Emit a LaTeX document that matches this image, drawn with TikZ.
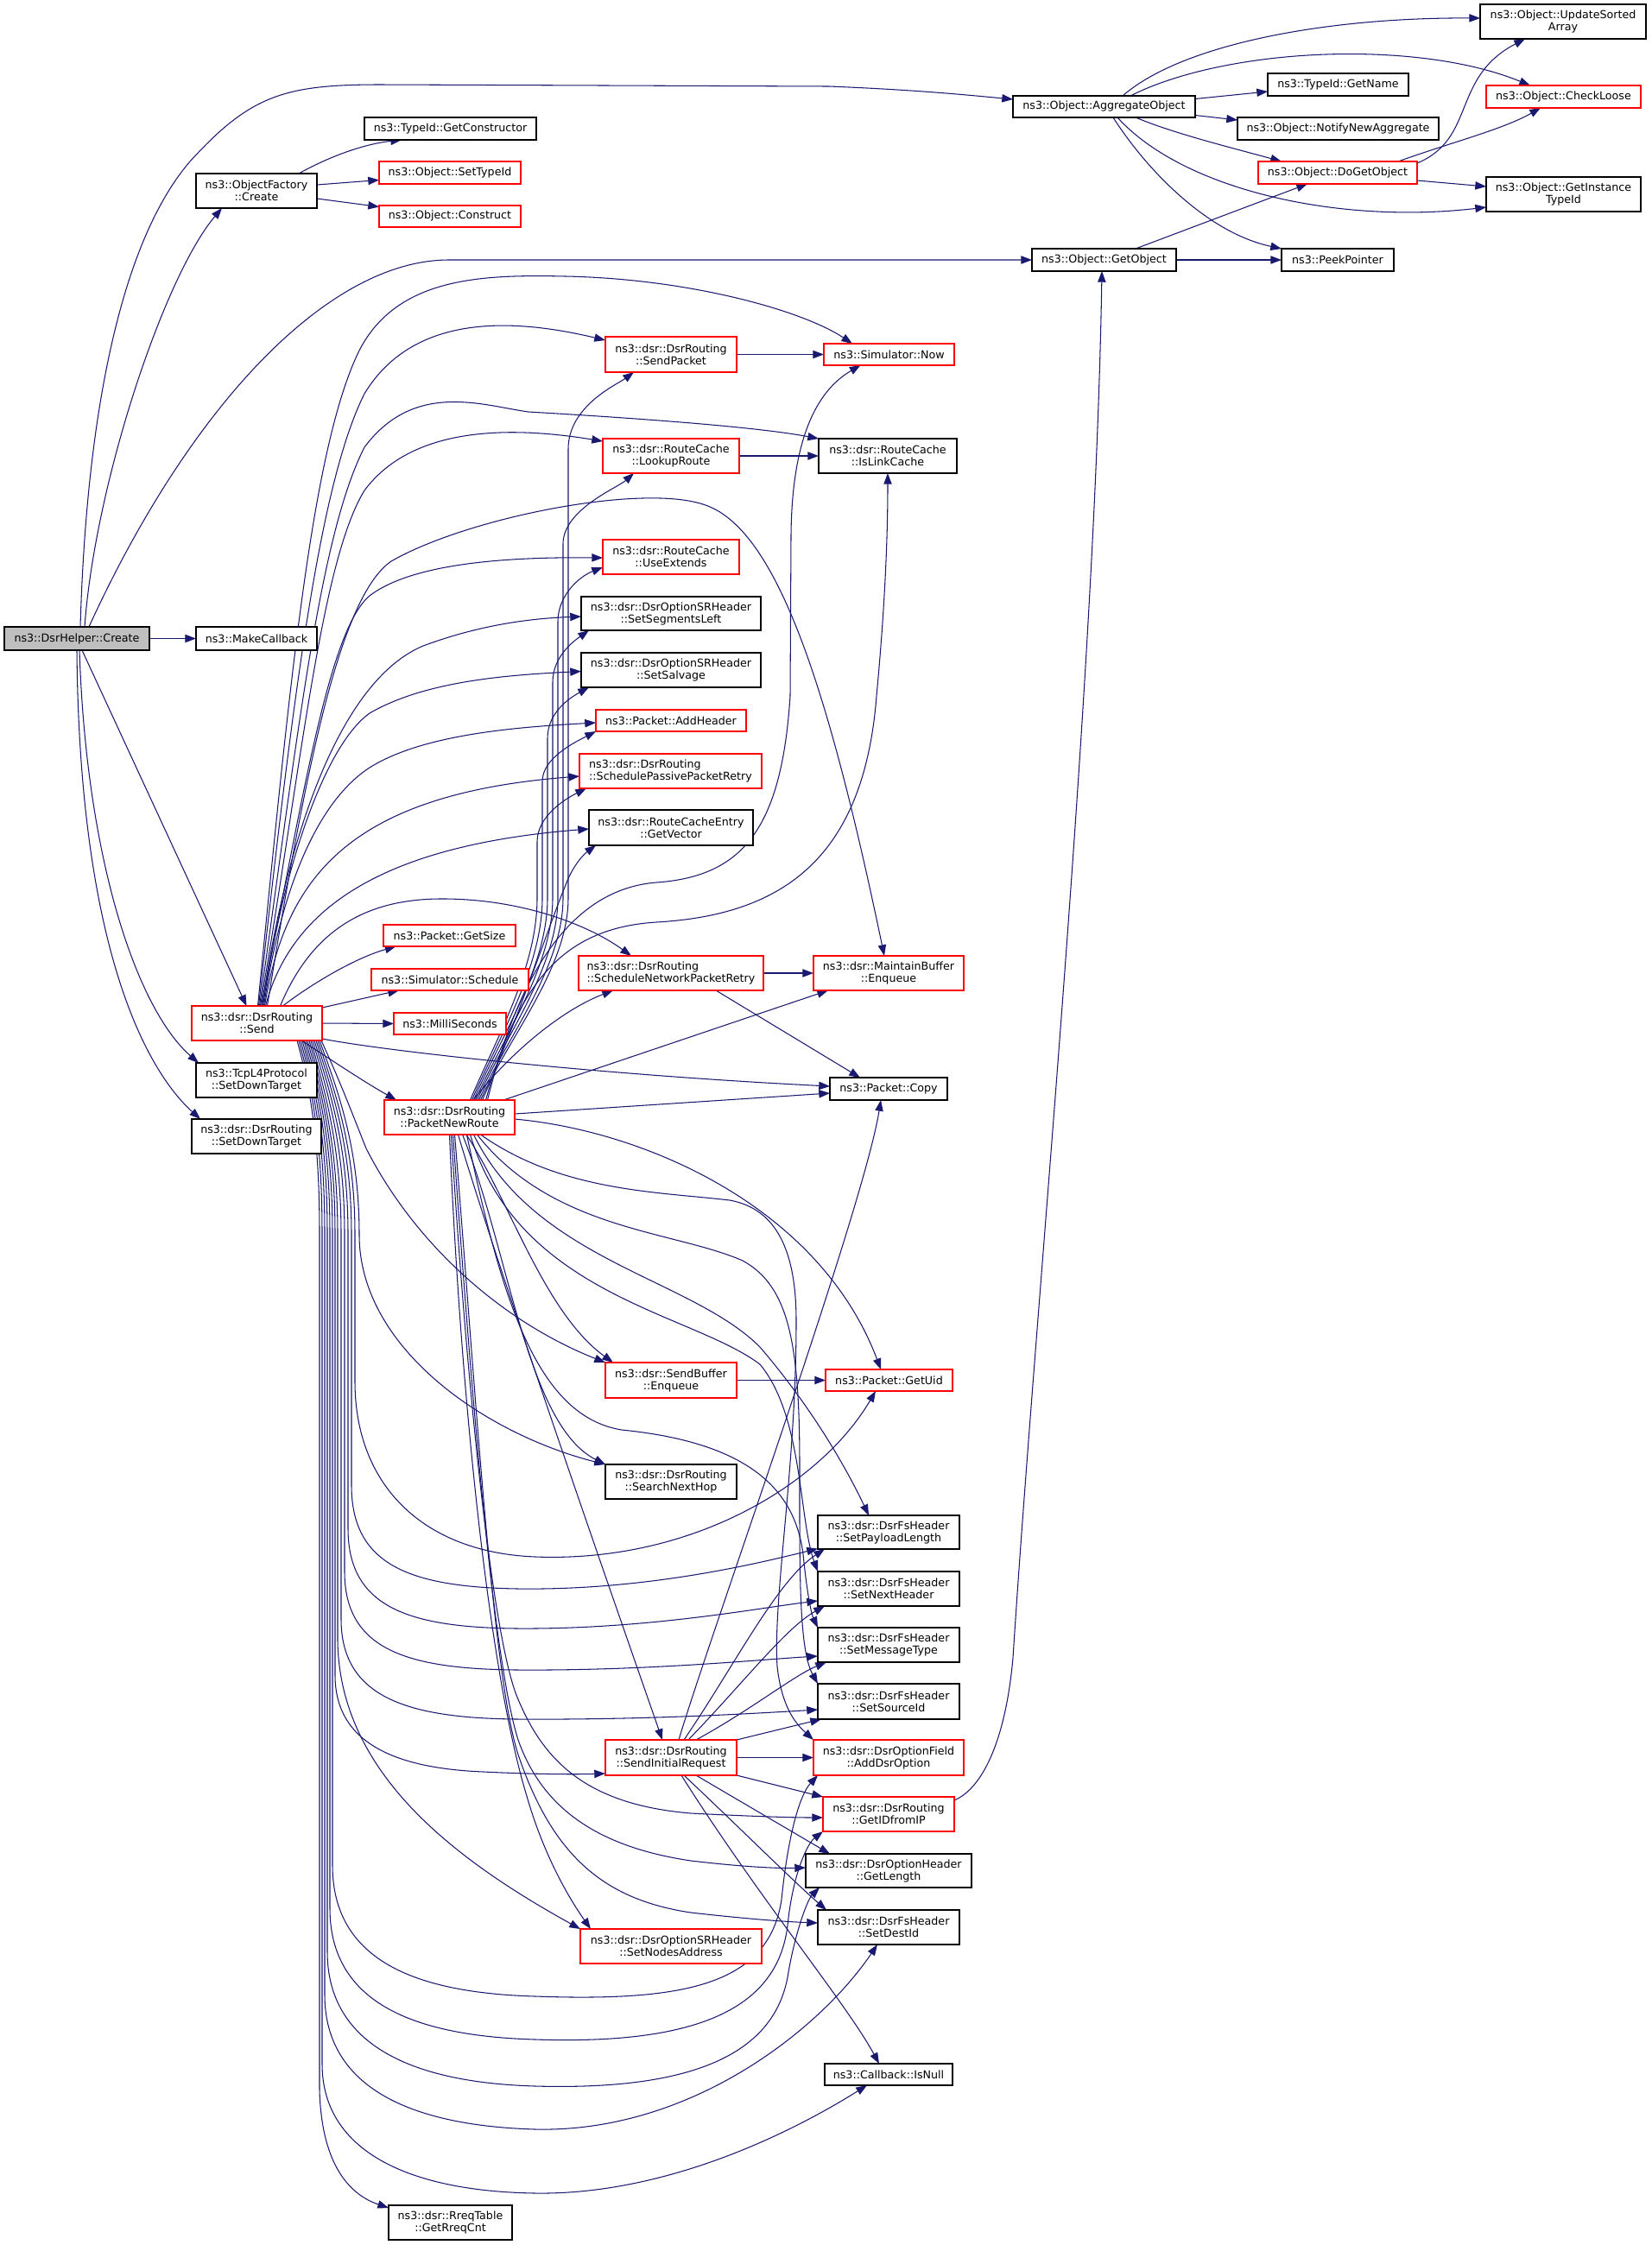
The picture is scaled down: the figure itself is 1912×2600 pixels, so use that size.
\documentclass[tikz,border=0pt]{standalone}
\usepackage{fontspec}
\setmainfont{DejaVu Sans}
\usetikzlibrary{arrows.meta}
\pgfdeclarelayer{paper}
\pgfdeclarelayer{edges}
\pgfsetlayers{paper,edges,main}
\definecolor{mblue}{HTML}{191970}
\definecolor{rootgray}{HTML}{BFBFBF}
\newcommand\fnt{\fontsize{12.66}{14}\selectfont}
\begin{document}
\begin{tikzpicture}[x=1pt,y=-1pt,
  nb/.style={draw=black, line width=1.1pt, fill=white, inner sep=0pt, outer sep=0pt, font=\fnt, align=center},
  nr/.style={nb, draw=red},
  nroot/.style={nb, fill=rootgray},
  cg/.style={draw=mblue, line width=1.05pt, -{Triangle[length=12.7pt,width=9.3pt]}}]
\begin{pgfonlayer}{paper}
\fill[white] (0,0) rectangle (1912,2600);
\end{pgfonlayer}
\useasboundingbox (0,0) rectangle (1912,2600);

% column 1-2
\node[nroot,minimum width=168pt,minimum height=27pt] (create) at (89,739.5) {ns3::DsrHelper::Create};
\node[nb,minimum width=140pt,minimum height=27pt] (makecb) at (297,739.5) {ns3::MakeCallback};
\node[nb,minimum width=140pt,minimum height=40pt] (ofcreate) at (297,221) {ns3::ObjectFactory\\::Create};
\node[nr,minimum width=151pt,minimum height=40pt] (send) at (297.5,1185) {ns3::dsr::DsrRouting\\::Send};
\node[nb,minimum width=140pt,minimum height=40pt] (tcp) at (297,1251) {ns3::TcpL4Protocol\\::SetDownTarget};
\node[nb,minimum width=150pt,minimum height=40pt] (setdown) at (297,1316) {ns3::dsr::DsrRouting\\::SetDownTarget};
% column 3
\node[nb,minimum width=199pt,minimum height=26pt] (getctor) at (521.5,149) {ns3::TypeId::GetConstructor};
\node[nr,minimum width=164pt,minimum height=26pt] (settypeid) at (521,200) {ns3::Object::SetTypeId};
\node[nr,minimum width=164pt,minimum height=25pt] (construct) at (521,250.5) {ns3::Object::Construct};
\node[nr,minimum width=153pt,minimum height=25pt] (getsize) at (520.5,1083.5) {ns3::Packet::GetSize};
\node[nr,minimum width=182pt,minimum height=25pt] (schedule) at (521,1134.5) {ns3::Simulator::Schedule};
\node[nr,minimum width=130pt,minimum height=25pt] (milli) at (521,1185.5) {ns3::MilliSeconds};
\node[nr,minimum width=151pt,minimum height=40pt] (pnr) at (520.5,1294) {ns3::dsr::DsrRouting\\::PacketNewRoute};
\node[nb,minimum width=143pt,minimum height=40pt] (rreq) at (521.5,2574) {ns3::dsr::RreqTable\\::GetRreqCnt};
% column 4
\node[nr,minimum width=152pt,minimum height=41pt] (sendpkt) at (777,410.5) {ns3::dsr::DsrRouting\\::SendPacket};
\node[nr,minimum width=158pt,minimum height=40pt] (lookup) at (777,528) {ns3::dsr::RouteCache\\::LookupRoute};
\node[nr,minimum width=158pt,minimum height=40pt] (useext) at (777,645) {ns3::dsr::RouteCache\\::UseExtends};
\node[nb,minimum width=208pt,minimum height=39pt] (segleft) at (777,710.5) {ns3::dsr::DsrOptionSRHeader\\::SetSegmentsLeft};
\node[nb,minimum width=208pt,minimum height=40pt] (salvage) at (777,776) {ns3::dsr::DsrOptionSRHeader\\::SetSalvage};
\node[nr,minimum width=174pt,minimum height=25pt] (addhdr) at (777,834.5) {ns3::Packet::AddHeader};
\node[nr,minimum width=211pt,minimum height=40pt,align=left] (passive) at (776.5,893) {ns3::dsr::DsrRouting\\::SchedulePassivePacketRetry};
\node[nb,minimum width=190pt,minimum height=41pt] (getvec) at (777,958.5) {ns3::dsr::RouteCacheEntry\\::GetVector};
\node[nr,minimum width=214pt,minimum height=40pt,align=left] (network) at (777,1127) {ns3::dsr::DsrRouting\\::ScheduleNetworkPacketRetry};
\node[nr,minimum width=152pt,minimum height=41pt] (sbenq) at (777,1598.5) {ns3::dsr::SendBuffer\\::Enqueue};
\node[nb,minimum width=152pt,minimum height=40pt] (nexthop) at (777,1716) {ns3::dsr::DsrRouting\\::SearchNextHop};
\node[nr,minimum width=152pt,minimum height=41pt] (sir) at (777,2035.5) {ns3::dsr::DsrRouting\\::SendInitialRequest};
\node[nr,minimum width=210pt,minimum height=40pt] (nodesaddr) at (777,2254) {ns3::dsr::DsrOptionSRHeader\\::SetNodesAddress};
% column 5
\node[nr,minimum width=151pt,minimum height=25pt] (now) at (1029.5,410.5) {ns3::Simulator::Now};
\node[nb,minimum width=160pt,minimum height=40pt] (linkcache) at (1028,528) {ns3::dsr::RouteCache\\::IsLinkCache};
\node[nr,minimum width=174pt,minimum height=40pt] (mbenq) at (1029,1127) {ns3::dsr::MaintainBuffer\\::Enqueue};
\node[nb,minimum width=136pt,minimum height=26pt] (copy) at (1029,1261) {ns3::Packet::Copy};
\node[nr,minimum width=147pt,minimum height=25pt] (getuid) at (1029.5,1598.5) {ns3::Packet::GetUid};
\node[nb,minimum width=164pt,minimum height=39pt] (payload) at (1029,1774.5) {ns3::dsr::DsrFsHeader\\::SetPayloadLength};
\node[nb,minimum width=164pt,minimum height=40pt] (nexthdr) at (1029,1840) {ns3::dsr::DsrFsHeader\\::SetNextHeader};
\node[nb,minimum width=164pt,minimum height=40pt] (msgtype) at (1029,1905) {ns3::dsr::DsrFsHeader\\::SetMessageType};
\node[nb,minimum width=164pt,minimum height=41pt] (srcid) at (1029,1970.5) {ns3::dsr::DsrFsHeader\\::SetSourceId};
\node[nr,minimum width=174pt,minimum height=41pt] (adddsr) at (1029,2035.5) {ns3::dsr::DsrOptionField\\::AddDsrOption};
\node[nr,minimum width=152pt,minimum height=40pt] (getid) at (1029,2101) {ns3::dsr::DsrRouting\\::GetIDfromIP};
\node[nb,minimum width=192pt,minimum height=39pt] (getlen) at (1029,2166.5) {ns3::dsr::DsrOptionHeader\\::GetLength};
\node[nb,minimum width=164pt,minimum height=40pt] (destid) at (1029,2232) {ns3::dsr::DsrFsHeader\\::SetDestId};
\node[nb,minimum width=148pt,minimum height=25pt] (isnull) at (1029,2402.5) {ns3::Callback::IsNull};
% columns 6-8
\node[nb,minimum width=211pt,minimum height=25pt] (agg) at (1278.5,123.5) {ns3::Object::AggregateObject};
\node[nb,minimum width=167pt,minimum height=26pt] (getobj) at (1278.5,301) {ns3::Object::GetObject};
\node[nb,minimum width=163pt,minimum height=26pt] (getname) at (1549.5,98) {ns3::TypeId::GetName};
\node[nb,minimum width=233pt,minimum height=26pt] (notify) at (1549.5,149) {ns3::Object::NotifyNewAggregate};
\node[nr,minimum width=184pt,minimum height=26pt] (dogetobj) at (1549,200) {ns3::Object::DoGetObject};
\node[nb,minimum width=130pt,minimum height=26pt] (peek) at (1549,301) {ns3::PeekPointer};
\node[nb,minimum width=192pt,minimum height=40pt] (sorted) at (1810,25) {ns3::Object::UpdateSorted\\Array};
\node[nr,minimum width=179pt,minimum height=26pt] (loose) at (1810.5,112) {ns3::Object::CheckLoose};
\node[nb,minimum width=179pt,minimum height=40pt] (instid) at (1810.5,225) {ns3::Object::GetInstance\\TypeId};

\begin{pgfonlayer}{edges}
% DsrHelper::Create
\draw[cg] ([xshift=4]create.north) .. controls (100,480) and (140,280) .. (220,187) .. controls (290,110) and (330,98) .. (440,98) -- (960,100) .. controls (1060,104) and (1120,110) .. ([yshift=8.5]agg.west);
\draw[cg] ([xshift=9]create.north) .. controls (110,560) and (190,320) .. ([xshift=-40]ofcreate.south);
\draw[cg] ([xshift=14]create.north) .. controls (220,470) and (380,301) .. (520,301) -- (getobj.west);
\draw[cg] (create.east) -- (makecb.west);
\draw[cg] ([xshift=6]create.south) -- ([xshift=-12]send.north);
\draw[cg] ([xshift=3]create.south) .. controls (100,1000) and (160,1170) .. ([xshift=3]tcp.north west);
\draw[cg] (create.south) .. controls (92,1100) and (170,1240) .. ([xshift=10]setdown.north west);
% ObjectFactory
\draw[cg] ([xshift=-21]ofcreate.north east) .. controls (380,182) and (420,167) .. ([xshift=-56.5]getctor.south);
\draw[cg] ([yshift=7]ofcreate.east) -- ([yshift=-8.5]settypeid.west);
\draw[cg] ([yshift=-9]ofcreate.east) -- ([yshift=11]construct.west);
% AggregateObject
\draw[cg] ([xshift=21.5]agg.north) .. controls (1370,50) and (1540,20) .. ([yshift=4]sorted.west);
\draw[cg] ([xshift=30.5]agg.north) .. controls (1420,55) and (1640,45) .. ([xshift=-38.5]loose.north);
\draw[cg] ([yshift=9]agg.east) -- ([yshift=-8]getname.west);
\draw[cg] ([yshift=-10]agg.east) -- ([yshift=10]notify.west);
\draw[cg] ([xshift=36.5]agg.south) .. controls (1360,155) and (1430,172) .. ([xshift=27]dogetobj.north west);
\draw[cg] ([xshift=15.5]agg.south) .. controls (1370,220) and (1550,260) .. ([yshift=-15]instid.west);
\draw[cg] ([xshift=10.5]agg.south) .. controls (1330,200) and (1400,270) .. (peek.north west);
% DoGetObject / GetObject
\draw[cg] ([yshift=-2]dogetobj.north east) .. controls (1710,160) and (1680,90) .. ([xshift=-44]sorted.south);
\draw[cg] ([xshift=70]dogetobj.north) .. controls (1680,165) and (1740,150) .. ([xshift=-26.5]loose.south);
\draw[cg] ([yshift=-9]dogetobj.east) -- ([yshift=9]instid.west);
\draw[cg] ([xshift=36.5]getobj.north) -- ([xshift=-35]dogetobj.south);
\draw[cg] (getobj.east) -- (peek.west);
\draw[cg] ([yshift=-4]getid.north east) .. controls (1140,2070) and (1165,2010) .. (1173,1920) .. controls (1200,1500) and (1268,800) .. ([xshift=-2.5]getobj.south);
% simple links
\draw[cg] (sendpkt.east) -- (now.west);
\draw[cg] (lookup.east) -- (linkcache.west);
\draw[cg] (network.east) -- (mbenq.west);
\draw[cg] ([xshift=52]network.south) -- ([xshift=-33]copy.north);
\draw[cg] (sbenq.east) -- (getuid.west);
% Send upward
\draw[cg] ([xshift=1]send.north) .. controls (335,800) and (360,520) .. (416,406) .. controls (460,320) and (560,318) .. (655,320) .. controls (800,323) and (930,360) .. ([xshift=-42.5]now.north);
\draw[cg] ([xshift=2]send.north) .. controls (340,800) and (370,560) .. (422,456) .. controls (480,360) and (600,370) .. ([yshift=16.5]sendpkt.west);
\draw[cg] ([xshift=3]send.north) .. controls (345,850) and (370,620) .. (422,518) .. controls (480,440) and (560,470) .. (612,477) .. controls (750,485) and (880,495) .. ([yshift=20]linkcache.west);
\draw[cg] ([xshift=4]send.north) .. controls (350,880) and (372,650) .. (422,568) .. controls (480,490) and (600,495) .. ([yshift=17]lookup.west);
\draw[cg] ([xshift=12]send.north) .. controls (355,880) and (395,690) .. (453,650) .. controls (540,600) and (740,560) .. (814,584) .. controls (900,610) and (960,800) .. ([xshift=-5]mbenq.north);
\draw[cg] ([xshift=5]send.north) .. controls (350,930) and (380,730) .. (428,690) .. controls (480,650) and (600,645) .. ([yshift=-1]useext.west);
\draw[cg] ([xshift=6]send.north) .. controls (330,980) and (390,790) .. (490,748) .. controls (560,722) and (620,716) .. ([yshift=-3.5]segleft.west);
\draw[cg] ([xshift=7]send.north) .. controls (330,990) and (380,860) .. (428,826) .. controls (490,790) and (580,782) .. ([yshift=-1.5]salvage.west);
\draw[cg] ([xshift=8]send.north) .. controls (330,1000) and (380,920) .. (428,889) .. controls (490,850) and (600,842) .. ([yshift=-2.5]addhdr.west);
\draw[cg] ([xshift=9]send.north) .. controls (330,1020) and (400,920) .. ([yshift=-6]passive.west);
\draw[cg] ([xshift=10]send.north) .. controls (335,1060) and (430,980) .. ([yshift=-1.5]getvec.west);
\draw[cg] ([xshift=27]send.north) .. controls (360,1080) and (420,1042) .. (508,1041) .. controls (600,1040) and (680,1070) .. ([xshift=-46]network.north);
\draw[cg] ([xshift=30]send.north) .. controls (360,1140) and (410,1110) .. ([xshift=-62]getsize.south);
\draw[cg] ([yshift=-2]send.north east) -- ([xshift=-59]schedule.south);
\draw[cg] (send.east) -- (milli.west);
\draw[cg] ([yshift=-18]send.east) .. controls (450,1218) and (700,1245) .. ([yshift=3]copy.west);
\draw[cg] ([xshift=51.5]send.south) .. controls (380,1225) and (420,1252) .. ([xshift=14]pnr.north west);
% Send downward bundle
\draw[cg] ([xshift=-1]send.south east) .. controls (395,1255) and (408,1290) .. (424,1330) .. controls (480,1440) and (580,1530) .. (sbenq.north west);
\draw[cg] ([xshift=-3]send.south east) .. controls (392,1265) and (416,1330) .. (416,1430) .. controls (416,1560) and (560,1660) .. (nexthop.north west);
\draw[cg] ([xshift=-5]send.south east) .. controls (390,1270) and (411,1330) .. (411,1430) -- (411,1600) .. controls (411,1720) and (490,1798) .. (620,1803) .. controls (800,1810) and (950,1720) .. ([xshift=-15.5]getuid.south);
\draw[cg] ([xshift=-7]send.south east) .. controls (387,1270) and (407,1330) .. (407,1430) -- (407,1720) .. controls (407,1810) and (470,1838) .. (600,1840) .. controls (750,1842) and (880,1810) .. ([yshift=-19]payload.west);
\draw[cg] ([xshift=-9]send.south east) .. controls (384,1270) and (403,1330) .. (403,1430) -- (403,1770) .. controls (403,1860) and (470,1885) .. (600,1886) .. controls (750,1887) and (880,1862) .. ([yshift=-14]nexthdr.west);
\draw[cg] ([xshift=-11]send.south east) .. controls (381,1270) and (399,1330) .. (399,1430) -- (399,1820) .. controls (399,1910) and (470,1933) .. (600,1934) .. controls (750,1935) and (880,1922) .. ([yshift=-13]msgtype.west);
\draw[cg] ([xshift=-13]send.south east) .. controls (378,1270) and (395,1330) .. (395,1430) -- (395,1875) .. controls (395,1965) and (470,1990) .. (600,1991) .. controls (750,1992) and (880,1984) .. ([yshift=-9.5]srcid.west);
\draw[cg] ([xshift=-17]send.south east) .. controls (374,1270) and (388,1330) .. (388,1430) -- (388,1940) .. controls (388,2020) and (460,2048) .. (560,2052) .. controls (620,2055) and (670,2055) .. ([yshift=-18.5]sir.west);
\draw[cg] ([xshift=-15]send.south east) .. controls (376,1270) and (391,1330) .. (391,1430) -- (391,1900) .. controls (393,2050) and (520,2150) .. (nodesaddr.north west);
\draw[cg] ([xshift=-19]send.south east) .. controls (372,1270) and (385,1330) .. (385,1430) -- (385,2160) .. controls (385,2270) and (480,2308) .. (620,2312) .. controls (790,2318) and (890,2300) .. (905,2200) .. controls (912,2130) and (925,2080) .. ([xshift=5]adddsr.south west);
\draw[cg] ([xshift=-21]send.south east) .. controls (370,1270) and (382,1330) .. (382,1430) -- (382,2210) .. controls (382,2320) and (480,2358) .. (620,2362) .. controls (800,2368) and (900,2330) .. (912,2230) .. controls (918,2170) and (935,2135) .. (getid.south west);
\draw[cg] ([xshift=-23]send.south east) .. controls (368,1270) and (379,1330) .. (379,1430) -- (379,2260) .. controls (379,2370) and (480,2412) .. (620,2416) .. controls (800,2421) and (895,2380) .. (912,2290) .. controls (920,2240) and (935,2200) .. ([xshift=16]getlen.south west);
\draw[cg] ([xshift=-25]send.south east) .. controls (366,1270) and (376,1330) .. (376,1430) -- (376,2310) .. controls (376,2420) and (480,2462) .. (620,2466) .. controls (800,2470) and (950,2350) .. ([xshift=-13]destid.south);
\draw[cg] ([xshift=-27]send.south east) .. controls (364,1270) and (373,1330) .. (373,1430) -- (373,2390) .. controls (373,2495) and (480,2538) .. (620,2540) .. controls (760,2542) and (900,2480) .. ([xshift=-25]isnull.south);
\draw[cg] ([xshift=-29]send.south east) .. controls (362,1270) and (370,1330) .. (370,1430) -- (370,2420) .. controls (372,2500) and (400,2540) .. ([yshift=-3]rreq.north west);
% PacketNewRoute
\draw[cg] ([yshift=4]pnr.east) -- ([yshift=-5]copy.west);
\draw[cg] ([xshift=-13]pnr.north east) -- ([xshift=-70]mbenq.south);
\draw[cg] ([xshift=27.5]pnr.north) .. controls (590,1220) and (650,1170) .. ([xshift=-67]network.south);
\draw[cg] ([yshift=-2]pnr.east) .. controls (750,1310) and (950,1400) .. ([xshift=-9.5]getuid.north);
\draw[cg] ([xshift=44]pnr.north) .. controls (600,1130) and (660,1030) .. (760,1022) .. controls (860,1015) and (905,960) .. (915,806) -- (916,620) .. controls (917,500) and (950,450) .. ([xshift=-33]now.south);
\draw[cg] ([xshift=42]pnr.north) .. controls (600,1140) and (650,1075) .. (760,1068) .. controls (900,1060) and (1000,1000) .. (1015,806) .. controls (1025,700) and (1028,620) .. (linkcache.south);
\draw[cg] ([xshift=36]pnr.north) .. controls (590,1200) and (658,1120) .. (658,1040) -- (658,520) .. controls (658,470) and (715,445) .. ([xshift=-43]sendpkt.south);
\draw[cg] ([xshift=34]pnr.north) .. controls (588,1200) and (652,1120) .. (652,1040) -- (652,630) .. controls (652,590) and (715,565) .. ([xshift=-43]lookup.south);
\draw[cg] ([xshift=32]pnr.north) .. controls (585,1200) and (646,1120) .. (646,1040) -- (646,720) .. controls (646,690) and (670,668) .. ([yshift=-12]useext.west);
\draw[cg] ([xshift=30]pnr.north) .. controls (583,1200) and (640,1120) .. (640,1040) -- (640,790) .. controls (640,760) and (665,742) .. ([xshift=9]segleft.south west);
\draw[cg] ([xshift=28]pnr.north) .. controls (580,1200) and (634,1120) .. (634,1040) -- (634,855) .. controls (634,825) and (660,808) .. ([xshift=9]salvage.south west);
\draw[cg] ([xshift=26]pnr.north) .. controls (578,1200) and (628,1120) .. (628,1040) -- (628,905) .. controls (628,878) and (665,860) .. (addhdr.south west);
\draw[cg] ([xshift=24]pnr.north) .. controls (576,1200) and (622,1120) .. (622,1040) -- (622,975) .. controls (622,945) and (655,925) .. ([xshift=8]passive.south west);
\draw[cg] ([xshift=38]pnr.north) .. controls (600,1180) and (640,1060) .. (655,1025) .. controls (662,1005) and (675,990) .. ([xshift=8]getvec.south west);
\draw[cg] ([xshift=19.5]pnr.south) .. controls (590,1390) and (630,1520) .. ([xshift=9]sbenq.north west);
\draw[cg] ([xshift=15]pnr.south) .. controls (590,1450) and (610,1650) .. (nexthop.north west);
\draw[cg] ([xshift=10]pnr.south) .. controls (580,1480) and (720,1880) .. ([xshift=-10]sir.north);
\draw[cg] ([xshift=2]pnr.south) .. controls (540,1600) and (570,1900) .. (600,1968) .. controls (630,2040) and (680,2090) .. (800,2100) .. controls (880,2104) and (920,2105) .. ([yshift=-4]getid.west);
\draw[cg] ([xshift=4]pnr.south) .. controls (545,1600) and (570,1920) .. (600,2015) .. controls (630,2100) and (700,2140) .. (800,2155) .. controls (860,2162) and (900,2164) .. ([yshift=3.5]getlen.west);
\draw[cg] ([xshift=6]pnr.south) .. controls (550,1600) and (570,1940) .. (600,2032) .. controls (640,2150) and (700,2200) .. (800,2215) .. controls (880,2224) and (920,2226) .. ([yshift=5]destid.west);
\draw[cg] (pnr.south) .. controls (535,1650) and (570,1950) .. (610,2080) .. controls (630,2150) and (660,2200) .. ([xshift=12]nodesaddr.north west);
\draw[cg] ([xshift=36]pnr.south) .. controls (650,1380) and (760,1380) .. (845,1390) .. controls (900,1400) and (922,1450) .. (922,1530) .. controls (922,1700) and (895,1850) .. (900,1930) .. controls (905,1975) and (920,1995) .. (adddsr.north west);
\draw[cg] ([xshift=32]pnr.south) .. controls (640,1425) and (780,1425) .. (860,1460) .. controls (915,1490) and (926,1560) .. (926,1700) .. controls (926,1820) and (925,1910) .. (srcid.north west);
\draw[cg] ([xshift=28]pnr.south) .. controls (620,1460) and (800,1480) .. (880,1560) .. controls (940,1630) and (980,1700) .. ([xshift=-23]payload.north);
\draw[cg] ([xshift=24]pnr.south) .. controls (600,1500) and (800,1520) .. (880,1580) .. controls (930,1640) and (925,1760) .. (nexthdr.north west);
\draw[cg] ([xshift=20]pnr.south) .. controls (580,1500) and (620,1640) .. (720,1656) .. controls (860,1670) and (920,1720) .. (930,1800) .. controls (935,1850) and (940,1870) .. (msgtype.north west);
% SendInitialRequest
\draw[cg] ([xshift=9]sir.north) .. controls (820,1900) and (1000,1400) .. ([xshift=-9]copy.south);
\draw[cg] ([xshift=15]sir.north) .. controls (850,1930) and (900,1830) .. ([xshift=8]payload.south west);
\draw[cg] ([xshift=20]sir.north) .. controls (860,1950) and (910,1885) .. ([xshift=8]nexthdr.south west);
\draw[cg] ([xshift=29]sir.north) .. controls (870,1980) and (920,1940) .. ([xshift=10]msgtype.south west);
\draw[cg] (sir.north east) -- ([xshift=4]srcid.south west);
\draw[cg] (sir.east) -- (adddsr.west);
\draw[cg] (sir.south east) -- (getid.north west);
\draw[cg] ([xshift=29]sir.south) -- ([xshift=28]getlen.north west);
\draw[cg] ([xshift=15]sir.south) .. controls (860,2120) and (920,2180) .. ([xshift=10]destid.north west);
\draw[cg] ([xshift=12]sir.south) .. controls (880,2200) and (980,2320) .. ([xshift=-11]isnull.north);
\end{pgfonlayer}
\end{tikzpicture}
\end{document}
